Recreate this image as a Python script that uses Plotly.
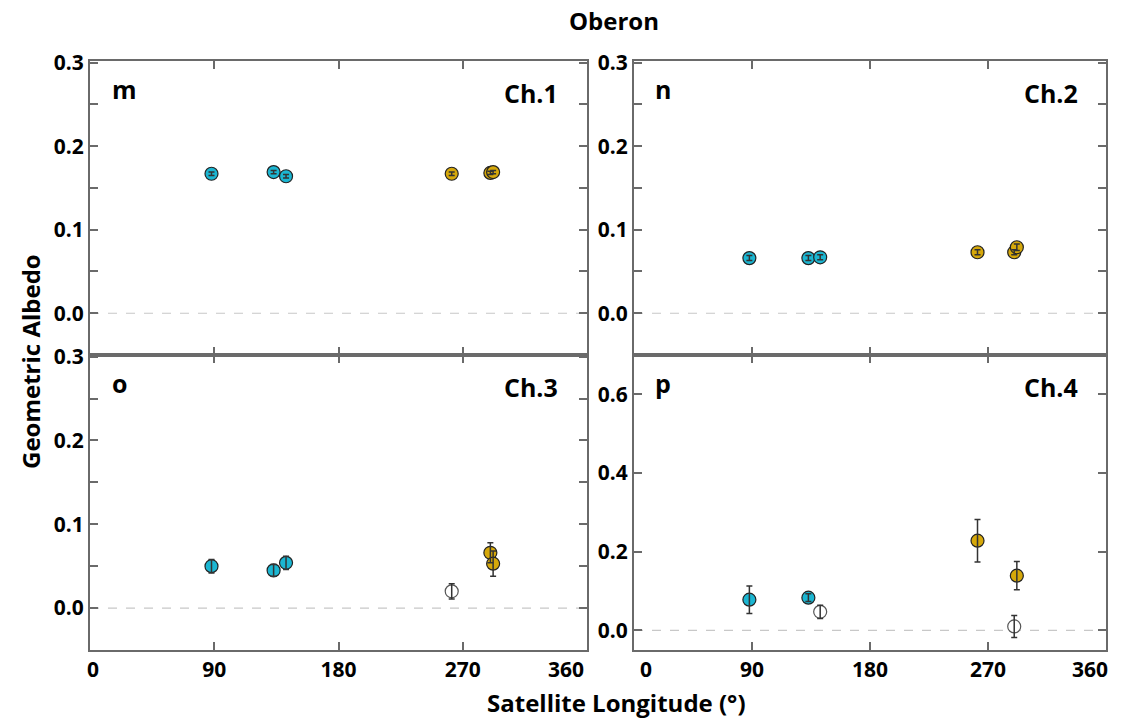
import plotly.graph_objects as go

# satellite longitudes (deg) and geometric albedo per channel
cyan_lon = [88, 133, 142]
gold_lon = [262, 290, 292]

ch1_cyan = [0.167, 0.169, 0.164]
ch1_cyan_err = [0.002, 0.002, 0.002]
ch1_gold = [0.167, 0.168, 0.169]
ch1_gold_err = [0.002, 0.002, 0.002]

ch2_cyan = [0.066, 0.066, 0.067]
ch2_cyan_err = [0.003, 0.003, 0.003]
ch2_gold = [0.073, 0.073, 0.079]
ch2_gold_err = [0.003, 0.003, 0.004]

ch3_cyan = [0.050, 0.045, 0.054]
ch3_cyan_err = [0.008, 0.007, 0.008]
ch3_gold_lon = [290, 292]
ch3_gold = [0.066, 0.053]
ch3_gold_err = [0.012, 0.015]
ch3_open_lon = [262]
ch3_open = [0.020]
ch3_open_err = [0.009]

ch4_cyan_lon = [88, 133]
ch4_cyan = [0.078, 0.083]
ch4_cyan_err = [0.035, 0.010]
ch4_gold_lon = [262, 292]
ch4_gold = [0.228, 0.139]
ch4_gold_err = [0.054, 0.036]
ch4_open_lon = [142, 290]
ch4_open = [0.047, 0.010]
ch4_open_err = [0.017, 0.028]

x_ticks = [0, 90, 180, 270, 360]
x_labels = ["0", "90", "180", "270", "360"]

CYAN = "#1bb6d2"
GOLD = "#d6a80a"
FONT = "Open Sans"

W, H = 1138, 723
col_x = [(90 / W, 587 / W), (634 / W, 1106 / W)]
row_y = [((H - 355) / H, (H - 61) / H), ((H - 650) / H, (H - 355) / H)]

fig = go.Figure()


def add_points(xa, ya, lon, val, err, fill, line_col):
    fig.add_trace(go.Scatter(
        x=lon, y=val, mode="markers", xaxis=xa, yaxis=ya, showlegend=False,
        marker=dict(size=13, color=fill, line=dict(color=line_col, width=1.2)),
    ))
    # error bars on top of the markers, as in the original
    fig.add_trace(go.Scatter(
        x=lon, y=val, mode="markers", xaxis=xa, yaxis=ya, showlegend=False,
        marker=dict(size=1, color="rgba(0,0,0,0)"),
        error_y=dict(type="data", array=err, color="#333333", thickness=1.5, width=3),
    ))


panels = [
    ("x", "y", "m", "Ch.1", [(cyan_lon, ch1_cyan, ch1_cyan_err, CYAN), (gold_lon, ch1_gold, ch1_gold_err, GOLD)]),
    ("x2", "y2", "n", "Ch.2", [(cyan_lon, ch2_cyan, ch2_cyan_err, CYAN), (gold_lon, ch2_gold, ch2_gold_err, GOLD)]),
    ("x3", "y3", "o", "Ch.3", [(cyan_lon, ch3_cyan, ch3_cyan_err, CYAN), (ch3_gold_lon, ch3_gold, ch3_gold_err, GOLD),
                               (ch3_open_lon, ch3_open, ch3_open_err, "white")]),
    ("x4", "y4", "p", "Ch.4", [(ch4_cyan_lon, ch4_cyan, ch4_cyan_err, CYAN), (ch4_gold_lon, ch4_gold, ch4_gold_err, GOLD),
                               (ch4_open_lon, ch4_open, ch4_open_err, "white")]),
]

tickfont = dict(family=FONT, size=21, color="black", weight="bold")

for i, (xa, ya, letter, ch, series) in enumerate(panels):
    row, col = divmod(i, 2)
    for lon, val, err, fill in series:
        add_points(xa, ya, lon, val, err, fill, "#555555" if fill == "white" else "#222222")

    sfx = "" if i == 0 else str(i + 1)
    axis_common = dict(showline=True, mirror="ticks", linecolor="#6a6a6a", linewidth=2,
                       ticks="inside", ticklen=8, tickwidth=2, tickcolor="#6a6a6a",
                       showgrid=False, zeroline=False, tickfont=tickfont, automargin=False)

    # the end labels (0, 360) sit pulled inside the panel, drawn as annotations below
    labels = [""] + x_labels[1:-1] + [""]
    fig.layout["xaxis" + sfx] = dict(axis_common, domain=col_x[col], range=[0, 360],
                                     tickvals=x_ticks, ticktext=labels,
                                     showticklabels=(row == 1), anchor="y" + sfx)
    if row == 1:
        shifts = [3, -21] if col == 0 else [12, -16]
        for val, txt, sh in [(x_ticks[0], x_labels[0], shifts[0]), (x_ticks[-1], x_labels[-1], shifts[1])]:
            fig.add_annotation(xref=xa, yref=ya + " domain", x=val, y=0, text=txt,
                               showarrow=False, xanchor="center", yanchor="top",
                               xshift=sh, yshift=-3, font=tickfont)

    if letter == "p":
        yax = dict(axis_common, range=[-0.05, 0.7], tickvals=[0.0, 0.2, 0.4, 0.6], tickformat=".1f")
    else:
        yax = dict(axis_common, range=[-0.05, 0.302], tickvals=[0.0, 0.1, 0.2, 0.3], tickformat=".1f",
                   minor=dict(tickvals=[0.05, 0.15, 0.25], ticks="inside", ticklen=8, tickwidth=2,
                              tickcolor="#6a6a6a"))
    fig.layout["yaxis" + sfx] = dict(yax, domain=row_y[row], anchor="x" + sfx)

    # dashed zero line
    fig.add_shape(type="line", xref=xa + " domain", yref=ya, x0=0, x1=1, y0=0, y1=0,
                  line=dict(color="#c8c8c8", width=1.2, dash="dash"), layer="below")
    fig.add_annotation(xref=xa + " domain", yref=ya + " domain", x=0.04, y=0.97,
                       text=letter, showarrow=False, xanchor="left", yanchor="top",
                       font=dict(family=FONT, size=25, color="black", weight="bold"))
    fig.add_annotation(xref=xa + " domain", yref=ya + " domain", x=0.945, y=0.955,
                       text=ch, showarrow=False, xanchor="right", yanchor="top",
                       font=dict(family=FONT, size=25, color="black", weight="bold"))

title_font = dict(family=FONT, size=24, color="black", weight="bold")
fig.add_annotation(xref="paper", yref="paper", x=614 / W, y=1 - 20 / H, text="Oberon",
                   showarrow=False, xanchor="center", yanchor="middle", font=title_font)
fig.add_annotation(xref="paper", yref="paper", x=616 / W, y=1 - 702 / H, text="Satellite Longitude (°)",
                   showarrow=False, xanchor="center", yanchor="middle", font=title_font)
fig.add_annotation(xref="paper", yref="paper", x=30 / W, y=1 - 362 / H, text="Geometric Albedo",
                   textangle=-90, showarrow=False, xanchor="center", yanchor="middle", font=title_font)

fig.update_layout(width=W, height=H, margin=dict(l=0, r=0, t=0, b=0),
                  plot_bgcolor="white", paper_bgcolor="white")

# drop the browser's default body margin so the figure fills the window exactly
fig.write_html("out.html", config={"displayModeBar": False},
               post_script="document.body.style.margin='0';")
